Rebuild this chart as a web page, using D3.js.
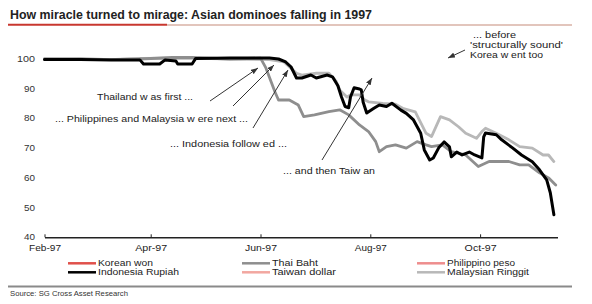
<!DOCTYPE html>
<html><head><meta charset="utf-8">
<script src="https://cdn.jsdelivr.net/npm/d3@7"></script>
<style>
body{margin:0;background:#fff}
svg{display:block}
text{font-family:"Liberation Sans",Arial,Helvetica,sans-serif}
</style>
</head><body>
<svg id="c" width="592" height="304"></svg>
<script>
// ---------------- DATA ----------------
const titleText = "How miracle turned to mirage: Asian dominoes falling in 1997";
const sourceText = "Source: SG Cross Asset Research";
const yTicks = [40, 50, 60, 70, 80, 90, 100];
const xTickDates = ["1997-02-01", "1997-04-01", "1997-06-01", "1997-08-01", "1997-10-01"];
const xTickLabels = ["Feb-97", "Apr-97", "Jun-97", "Aug-97", "Oct-97"];
const seriesNames = ["Korean won", "Indonesia Rupiah", "Thai Baht", "Taiwan dollar", "Philippino peso", "Malaysian Ringgit"];

const koreanWon = [];
const taiwanDollar = [];
const philippinoPeso = [];

const malaysianRinggit = [
  ["1997-02-01",100],["1997-02-21",100.2],["1997-03-09",99.8],["1997-03-26",100.2],
  ["1997-04-24",100.3],["1997-05-15",100],["1997-06-06",99.8],["1997-06-14",99],
  ["1997-06-21",95.2],["1997-06-24",94.6],["1997-07-02",95.2],["1997-07-09",95.2],
  ["1997-07-13",92.5],["1997-07-15",89.6],["1997-07-19",87.2],["1997-07-21",87.9],
  ["1997-07-26",87.9],["1997-07-29",86.2],["1997-07-31",85.6],["1997-08-08",85.1],
  ["1997-08-15",84.8],["1997-08-19",83.4],["1997-08-26",82.2],["1997-09-01",75],
  ["1997-09-04",73.9],["1997-09-09",80.6],["1997-09-14",79.5],["1997-09-19",77.2],
  ["1997-09-23",75],["1997-09-29",73.3],["1997-10-02",75.6],["1997-10-04",76.7],
  ["1997-10-10",75],["1997-10-17",72.8],["1997-10-23",70.5],["1997-10-30",70],
  ["1997-11-05",67.7],["1997-11-08",67.7],["1997-11-11",65.5]
];

const thaiBaht = [
  ["1997-02-01",100],["1997-03-09",99.8],["1997-03-26",100],["1997-04-13",100.5],
  ["1997-04-24",100.5],["1997-05-15",100],["1997-06-01",100.3],["1997-06-04",97],
  ["1997-06-09",89],["1997-06-11",86.2],["1997-06-17",86.2],["1997-06-22",84.5],
  ["1997-06-25",80.6],["1997-07-01",81.2],["1997-07-09",82.3],["1997-07-15",82.9],
  ["1997-07-20",81.2],["1997-07-26",77.8],["1997-07-31",75.6],["1997-08-04",72.2],
  ["1997-08-06",68.8],["1997-08-10",70.5],["1997-08-15",71.1],["1997-08-21",70],
  ["1997-08-27",72.2],["1997-09-01",71.1],["1997-09-04",70.5],["1997-09-10",71.1],
  ["1997-09-15",68.8],["1997-09-23",67.7],["1997-09-30",63.8],["1997-10-06",65.5],
  ["1997-10-12",65.5],["1997-10-17",65.5],["1997-10-23",64.4],["1997-10-28",64.4],
  ["1997-11-03",61.7],["1997-11-08",60],["1997-11-12",57.6]
];

const indonesiaRupiah = [
  ["1997-02-01",99.8],["1997-02-21",99.8],["1997-03-10",99.7],["1997-03-26",99.7],
  ["1997-03-28",98.3],["1997-04-06",98.3],["1997-04-09",99.7],["1997-04-15",99.3],
  ["1997-04-16",98.3],["1997-04-24",98.3],["1997-04-26",100.2],["1997-05-15",100.3],
  ["1997-06-06",100.3],["1997-06-11",100],["1997-06-15",99],["1997-06-18",97.3],
  ["1997-06-21",93.6],["1997-06-24",93.6],["1997-06-29",94.6],["1997-07-02",93.6],
  ["1997-07-08",94.6],["1997-07-11",94],["1997-07-14",91],["1997-07-16",87.2],
  ["1997-07-18",84],["1997-07-20",83.6],["1997-07-21",87.2],["1997-07-23",90.3],
  ["1997-07-26",89.9],["1997-07-27",89.6],["1997-07-28",85.5],["1997-07-30",81.8],
  ["1997-08-03",83.4],["1997-08-06",84.5],["1997-08-10",84],["1997-08-13",85.1],
  ["1997-08-18",82.8],["1997-08-21",81.7],["1997-08-25",79.5],["1997-08-29",75],
  ["1997-08-31",69.4],["1997-09-03",66],["1997-09-05",66.7],["1997-09-08",70.1],
  ["1997-09-11",72.1],["1997-09-14",70.4],["1997-09-15",67.1],["1997-09-18",68.7],
  ["1997-09-21",67.7],["1997-09-25",68.7],["1997-09-28",67.7],["1997-10-02",66.7],
  ["1997-10-03",73.8],["1997-10-04",75.1],["1997-10-10",74.5],["1997-10-13",72.8],
  ["1997-10-19",70.1],["1997-10-24",67.7],["1997-10-30",65.4],["1997-11-03",62.7],
  ["1997-11-07",59.3],["1997-11-09",55],["1997-11-11",47.6]
];

const annotationTexts = [
  "Thailand w as first ...",
  "... Philippines and Malaysia w ere next ...",
  "... Indonesia follow ed ...",
  "... and then Taiw an"
];
const koreaNoteLines = ["... before", "'structurally sound'", "Korea w ent too"];

// ---------------- LAYOUT / STYLE ----------------
const parse = d3.timeParse("%Y-%m-%d");
const svg = d3.select("#c");
const x = d3.scaleTime().domain([parse("1997-02-01"), parse("1997-11-13")]).range([44.5, 557.5]);
const y = d3.scaleLinear().domain([40, 100]).range([237.3, 59]);

// stretch text horizontally to a target width (the reference type is wide)
function fit(sel, widthFn) {
  sel.each(function (d, i) {
    const w = widthFn(d, i);
    if (w) d3.select(this).attr("textLength", w).attr("lengthAdjust", "spacingAndGlyphs");
  });
}

const seriesData = {
  "Korean won": koreanWon, "Indonesia Rupiah": indonesiaRupiah, "Thai Baht": thaiBaht,
  "Taiwan dollar": taiwanDollar, "Philippino peso": philippinoPeso, "Malaysian Ringgit": malaysianRinggit
};
const seriesColor = {
  "Korean won": "#e0504a", "Indonesia Rupiah": "#000000", "Thai Baht": "#8e8e8e",
  "Taiwan dollar": "#f2a7a0", "Philippino peso": "#ee8d8d", "Malaysian Ringgit": "#b8b8b8"
};
const drawOrder = ["Korean won", "Taiwan dollar", "Philippino peso", "Malaysian Ringgit", "Thai Baht", "Indonesia Rupiah"];

// title
svg.append("text").attr("x", 10).attr("y", 19)
  .attr("font-size", 12).attr("font-weight", "bold").attr("fill", "#222").text(titleText)
  .attr("textLength", 362).attr("lengthAdjust", "spacingAndGlyphs");

svg.append("line").attr("x1", 8).attr("x2", 167).attr("y1", 24.7).attr("y2", 24.7)
  .attr("stroke", "#c8372f").attr("stroke-width", 2);
svg.append("line").attr("x1", 167).attr("x2", 572).attr("y1", 25).attr("y2", 25)
  .attr("stroke", "#d8b2a6").attr("stroke-width", 1.5);

// y labels
svg.append("g").selectAll("text").data(yTicks).join("text")
  .attr("x", 35).attr("y", d => y(d)).attr("dy", "0.35em")
  .attr("text-anchor", "end").attr("font-size", 8.5).attr("fill", "#333").text(d => d)
  .call(fit, d => d >= 100 ? 18 : 11);

// x axis
const xAxis = d3.axisBottom(x)
  .tickValues(xTickDates.map(parse))
  .tickFormat((d, i) => xTickLabels[i])
  .tickSizeInner(-3).tickSizeOuter(0).tickPadding(7.5);
const gx = svg.append("g").attr("transform", `translate(0,${y(40)})`).call(xAxis);
gx.select(".domain").attr("stroke", "#222").attr("stroke-width", 1.6);
gx.selectAll(".tick line").attr("stroke", "#222");
gx.selectAll(".tick text").attr("font-size", 8.5).attr("fill", "#222")
  .attr("font-family", "'Liberation Sans',Arial,sans-serif")
  .call(fit, () => 32);

// lines
const line = d3.line().x(d => x(parse(d[0]))).y(d => y(d[1]));
svg.append("g").selectAll("path").data(drawOrder).join("path")
  .attr("d", n => seriesData[n].length ? line(seriesData[n]) : null)
  .attr("fill", "none").attr("stroke", n => seriesColor[n])
  .attr("stroke-width", n => n === "Indonesia Rupiah" ? 3 : 2.8)
  .attr("stroke-linejoin", "round").attr("stroke-linecap", "round");

// arrows
svg.append("defs").append("marker").attr("id", "ah")
  .attr("viewBox", "0 0 8 6").attr("refX", 8).attr("refY", 3)
  .attr("markerWidth", 7).attr("markerHeight", 5.5).attr("orient", "auto")
  .append("path").attr("d", "M0,0L8,3L0,6Z").attr("fill", "#333");

const arrows = [
  [210, 101, 258, 68], [233, 106, 274, 65], [253, 128, 288, 70],
  [322, 160, 372, 78], [465, 50, 448, 58]
];
svg.append("g").selectAll("line").data(arrows).join("line")
  .attr("x1", d => d[0]).attr("y1", d => d[1]).attr("x2", d => d[2]).attr("y2", d => d[3])
  .attr("stroke", "#333").attr("stroke-width", 1).attr("marker-end", "url(#ah)");

// annotation texts
const annPos = [[97, 100], [55, 122], [170, 147], [283, 173.5]];
const annW = [96, 193, 117, 92];
svg.append("g").selectAll("text").data(annotationTexts).join("text")
  .attr("x", (d, i) => annPos[i][0]).attr("y", (d, i) => annPos[i][1])
  .attr("font-size", 9).attr("fill", "#222").text(d => d)
  .call(fit, (d, i) => annW[i]);

const korW = [43, 93, 73];
svg.append("g").selectAll("text").data(koreaNoteLines).join("text")
  .attr("x", (d, i) => i === 0 ? 473 : 470).attr("y", (d, i) => 38 + i * 10)
  .attr("font-size", 9).attr("fill", "#222").text(d => d)
  .call(fit, (d, i) => korW[i]);

// legend
const legCols = [68, 242, 417];
const legRows = [263.3, 272.3];
const legW = [55, 81, 46, 64, 68, 82];
const lg = svg.append("g").selectAll("g").data(seriesNames).join("g")
  .attr("transform", (d, i) => `translate(${legCols[Math.floor(i / 2)]},${legRows[i % 2]})`);
lg.append("line").attr("x1", 0).attr("x2", 28).attr("stroke", d => seriesColor[d]).attr("stroke-width", 2.5);
lg.append("text").attr("x", 30).attr("dy", "0.35em").attr("font-size", 8.5).attr("fill", "#222").text(d => d)
  .call(fit, (d, i) => legW[i]);

// bottom rule and source
svg.append("line").attr("x1", 8).attr("x2", 572).attr("y1", 286.5).attr("y2", 286.5)
  .attr("stroke", "#8a8a8a").attr("stroke-width", 2);
svg.append("text").attr("x", 10).attr("y", 296).attr("font-size", 7)
  .attr("fill", "#333").text(sourceText)
  .attr("textLength", 118).attr("lengthAdjust", "spacingAndGlyphs");
</script>
</body></html>
